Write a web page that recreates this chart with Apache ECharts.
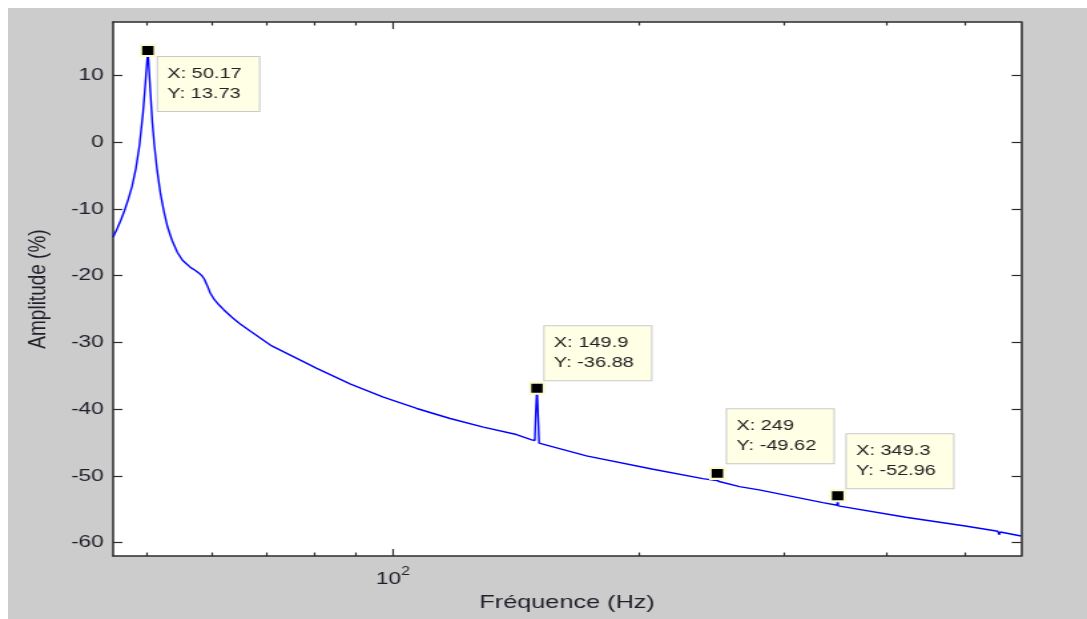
<!DOCTYPE html>
<html>
<head>
<meta charset="utf-8">
<script src="https://cdn.jsdelivr.net/npm/echarts@6/dist/echarts.min.js"></script>
<style>
  html, body { margin: 0; padding: 0; background: #ffffff; overflow: hidden; }
  #page { position: relative; width: 1087px; height: 619px; overflow: hidden; background: #ffffff; }
  #figure { position: absolute; left: 8px; top: 8px; width: 1079px; height: 611px; background: #cccccc; }
  /* drawn on a narrower canvas and widened, like the exported figure */
  #chart { position: absolute; left: 0; top: 0; width: 817px; height: 619px;
           transform: scaleX(1.33048); transform-origin: 0 0; }
</style>
</head>
<body>
<div id="page">
  <div id="figure"></div>
  <div id="chart"></div>
</div>
<script>
// Spectrum samples: frequency (Hz) and amplitude
const freqHz = [
  45.5, 46.0, 46.5, 47.0, 47.5, 48.0, 48.5, 49.0, 49.5, 49.8,
  50.17, 50.5, 50.8, 51.1, 51.5, 52.0, 52.5, 53.0, 53.7, 54.5,
  55.3, 56.0, 56.6, 57.3, 57.9, 58.4, 58.8, 59.3, 59.8, 60.5,
  61.3, 62.1, 63.5, 65.0, 66.9, 70.8, 74.9, 80.7, 88.6, 97.3,
  106.9, 117.4, 128.9, 141.5, 147.7, 149.0, 149.4, 149.9, 150.3, 150.8,
  151.0, 172.3, 207.8, 239.0, 248.5, 249.0, 249.5, 265.0, 280.0, 335.0,
  348.8, 349.3, 349.8, 423.0, 500.0, 548.0, 550.0, 552.0, 585.0
];
const amplitude = [
  -14.2, -13.0, -11.7, -10.2, -8.5, -6.6, -4.0, -0.5, 4.5, 8.5,
  13.73, 8.0, 3.0, -0.5, -4.2, -7.8, -10.4, -12.6, -14.7, -16.5,
  -17.7, -18.3, -18.8, -19.2, -19.6, -20.0, -20.5, -21.5, -22.6, -23.6,
  -24.4, -25.1, -26.2, -27.2, -28.3, -30.4, -31.9, -33.9, -36.2, -38.2,
  -39.9, -41.4, -42.7, -43.8, -44.6, -44.7, -40.6, -36.88, -40.4, -45.1,
  -45.1, -47.0, -49.0, -50.4, -50.7, -49.62, -50.8, -51.6, -52.1, -54.0,
  -54.4, -52.96, -54.5, -56.2, -57.5, -58.3, -58.8, -58.4, -59.0
];

// Data tips (fundamental and odd harmonics)
const tipFreq = [50.17, 149.9, 249, 349.3];
const tipAmp = [13.73, -36.88, -49.62, -52.96];

// Axis ticks
const xMinorTicks = [50, 60, 70, 80, 90, 200, 300, 400, 500];
const xMajorTicks = [100];
const yTicks = [-60, -50, -40, -30, -20, -10, 0, 10];

const xRange = [45.5, 585];
const yRange = [-62, 18];

const ink = '#1f1f2a';
const frameColor = '#2b2b2b';
const font = 'Liberation Sans, Arial, sans-serif';

function xAxisDef(position, ticks, tickLen, withLabel, withLine) {
  return {
    type: 'log', logBase: 10, position: position,
    min: xRange[0], max: xRange[1],
    axisLine: { show: withLine, onZero: false, lineStyle: { color: frameColor, width: 1.5 } },
    axisTick: { show: true, inside: true, length: tickLen, customValues: ticks,
                lineStyle: { color: frameColor, width: 1.2 } },
    axisLabel: withLabel ? {
      show: true, customValues: xMajorTicks, margin: 10,
      formatter: function (v) { return '{a|10}{b|' + Math.round(Math.log10(v)) + '}'; },
      rich: {
        a: { fontSize: 17, fontFamily: font, color: ink, lineHeight: 22, verticalAlign: 'bottom' },
        b: { fontSize: 12, fontFamily: font, color: ink, lineHeight: 22, verticalAlign: 'top' }
      }
    } : { show: false },
    splitLine: { show: false },
    minorTick: { show: false }
  };
}

function yAxisDef(position, withLabel) {
  return {
    type: 'value', position: position,
    min: yRange[0], max: yRange[1],
    name: withLabel ? 'Amplitude (%)' : '',
    nameLocation: 'middle', nameGap: 47, nameRotate: 90,
    nameTextStyle: { fontSize: 19, fontFamily: font, color: ink },
    axisLine: { show: true, onZero: false, lineStyle: { color: frameColor, width: 1.5 } },
    axisTick: { show: true, inside: true, length: 7, customValues: yTicks,
                lineStyle: { color: frameColor, width: 1.2 } },
    axisLabel: { show: withLabel, customValues: yTicks, margin: 7, fontSize: 17,
                 fontFamily: font, color: ink },
    splitLine: { show: false }
  };
}

const spectrum = freqHz.map((f, i) => [f, amplitude[i]]);

const tipOffsets = [
  { position: [13.9, 13], verticalAlign: 'top' },
  { position: [12, -1.5], verticalAlign: 'bottom' },
  { position: [13.5, -3.5], verticalAlign: 'bottom' },
  { position: [13, -1], verticalAlign: 'bottom' }
];

const tips = tipFreq.map((f, i) => ({
  value: [f, tipAmp[i]],
  label: { position: tipOffsets[i].position, align: 'left', verticalAlign: tipOffsets[i].verticalAlign }
}));

const xBottom = xAxisDef('bottom', xMinorTicks, 3.5, true, true);
xBottom.name = 'Fréquence (Hz)';
xBottom.nameLocation = 'middle';
xBottom.nameGap = 37;
xBottom.nameTextStyle = { fontSize: 19, fontFamily: font, color: ink };

const chart = echarts.init(document.getElementById('chart'), null, { renderer: 'canvas' });
chart.setOption({
  animation: false,
  backgroundColor: 'transparent',
  grid: { show: true, backgroundColor: '#ffffff', borderWidth: 0,
          left: 85, right: 49.6, top: 22, bottom: 63, containLabel: false },
  xAxis: [
    xBottom,
    xAxisDef('bottom', xMajorTicks, 7, false, false),
    xAxisDef('top', xMinorTicks, 3.5, false, true),
    xAxisDef('top', xMajorTicks, 7, false, false)
  ],
  yAxis: [
    yAxisDef('left', true),
    yAxisDef('right', false)
  ],
  series: [
    {
      type: 'line', xAxisIndex: 0, yAxisIndex: 0,
      data: spectrum, showSymbol: false, symbol: 'none',
      lineStyle: { color: '#0000ff', width: 1.4 },
      z: 2
    },
    {
      type: 'scatter', xAxisIndex: 0, yAxisIndex: 0,
      data: tips,
      symbol: 'rect', symbolSize: [10.5, 11],
      itemStyle: { color: '#000000', borderColor: '#fbfbd2', borderWidth: 2, opacity: 1 },
      label: {
        show: true,
        formatter: function (p) { return 'X: ' + p.value[0] + '\nY: ' + p.value[1]; },
        fontSize: 15, lineHeight: 20,
        fontFamily: font,
        color: '#222222',
        backgroundColor: '#ffffe6',
        borderColor: '#c9c9c9', borderWidth: 1,
        padding: [7, 13, 7, 7]
      },
      emphasis: { disabled: true },
      z: 5
    }
  ]
});
</script>
</body>
</html>
